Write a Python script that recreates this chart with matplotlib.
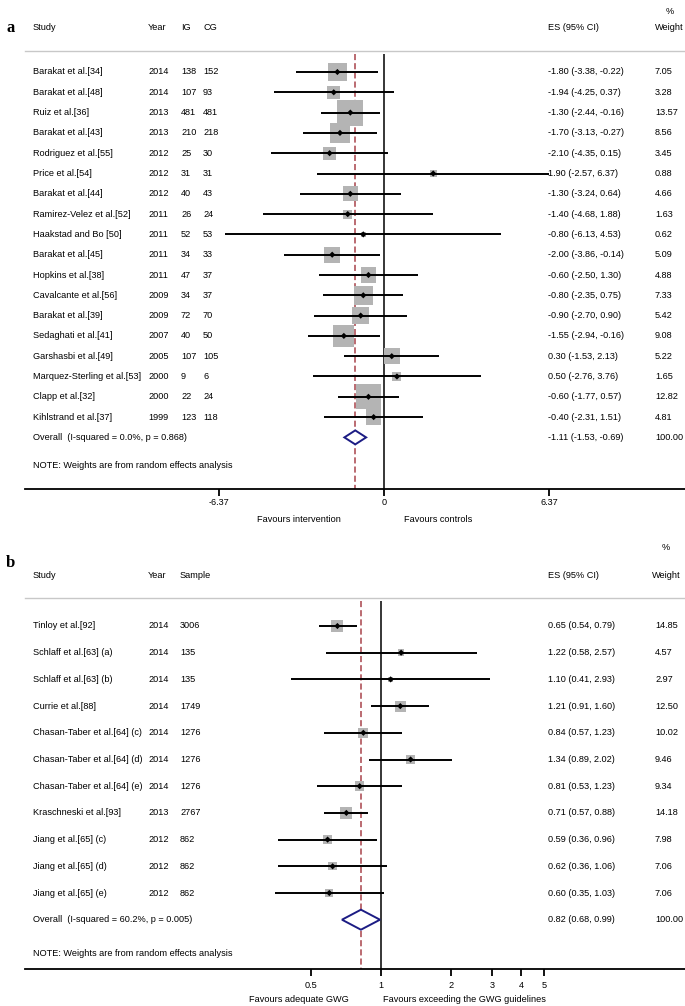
import numpy as np
import matplotlib
matplotlib.use('Agg')
import matplotlib.pyplot as plt
from matplotlib.patches import Polygon

plt.rcParams['font.family'] = ['Liberation Sans', 'DejaVu Sans']

# ---- panel a: physical activity vs weight gain (mean difference) ----
studies_a = ['Barakat et al.[34]', 'Barakat et al.[48]', 'Ruiz et al.[36]', 'Barakat et al.[43]',
             'Rodriguez et al.[55]', 'Price et al.[54]', 'Barakat et al.[44]',
             'Ramirez-Velez et al.[52]', 'Haakstad and Bo [50]', 'Barakat et al.[45]',
             'Hopkins et al.[38]', 'Cavalcante et al.[56]', 'Barakat et al.[39]',
             'Sedaghati et al.[41]', 'Garshasbi et al.[49]', 'Marquez-Sterling et al.[53]',
             'Clapp et al.[32]', 'Kihlstrand et al.[37]']
years_a = [2014, 2014, 2013, 2013, 2012, 2012, 2012, 2011, 2011, 2011, 2011, 2009, 2009,
           2007, 2005, 2000, 2000, 1999]
ig_a = [138, 107, 481, 210, 25, 31, 40, 26, 52, 34, 47, 34, 72, 40, 107, 9, 22, 123]
cg_a = [152, 93, 481, 218, 30, 31, 43, 24, 53, 33, 37, 37, 70, 50, 105, 6, 24, 118]
es_a = [-1.80, -1.94, -1.30, -1.70, -2.10, 1.90, -1.30, -1.40, -0.80, -2.00, -0.60, -0.80,
        -0.90, -1.55, 0.30, 0.50, -0.60, -0.40]
lo_a = [-3.38, -4.25, -2.44, -3.13, -4.35, -2.57, -3.24, -4.68, -6.13, -3.86, -2.50, -2.35,
        -2.70, -2.94, -1.53, -2.76, -1.77, -2.31]
hi_a = [-0.22, 0.37, -0.16, -0.27, 0.15, 6.37, 0.64, 1.88, 4.53, -0.14, 1.30, 0.75,
        0.90, -0.16, 2.13, 3.76, 0.57, 1.51]
weight_a = [7.05, 3.28, 13.57, 8.56, 3.45, 0.88, 4.66, 1.63, 0.62, 5.09, 4.88, 7.33,
            5.42, 9.08, 5.22, 1.65, 12.82, 4.81]
overall_a = [-1.11, -1.53, -0.69]
overall_text_a = 'Overall  (I-squared = 0.0%, p = 0.868)'
ticks_a = [-6.37, 0, 6.37]
tick_labels_a = ['-6.37', '0', '6.37']

# ---- panel b: adequate GWG vs exceeding guidelines (ratio, log scale) ----
studies_b = ['Tinloy et al.[92]', 'Schlaff et al.[63] (a)', 'Schlaff et al.[63] (b)',
             'Currie et al.[88]', 'Chasan-Taber et al.[64] (c)', 'Chasan-Taber et al.[64] (d)',
             'Chasan-Taber et al.[64] (e)', 'Kraschneski et al.[93]', 'Jiang et al.[65] (c)',
             'Jiang et al.[65] (d)', 'Jiang et al.[65] (e)']
years_b = [2014, 2014, 2014, 2014, 2014, 2014, 2014, 2013, 2012, 2012, 2012]
sample_b = [3006, 135, 135, 1749, 1276, 1276, 1276, 2767, 862, 862, 862]
es_b = [0.65, 1.22, 1.10, 1.21, 0.84, 1.34, 0.81, 0.71, 0.59, 0.62, 0.60]
lo_b = [0.54, 0.58, 0.41, 0.91, 0.57, 0.89, 0.53, 0.57, 0.36, 0.36, 0.35]
hi_b = [0.79, 2.57, 2.93, 1.60, 1.23, 2.02, 1.23, 0.88, 0.96, 1.06, 1.03]
weight_b = [14.85, 4.57, 2.97, 12.50, 10.02, 9.46, 9.34, 14.18, 7.98, 7.06, 7.06]
overall_b = [0.82, 0.68, 0.99]
overall_text_b = 'Overall  (I-squared = 60.2%, p = 0.005)'
ticks_b = [0.5, 1, 2, 3, 4, 5]
tick_labels_b = ['0.5', '1', '2', '3', '4', '5']

W, H = 685, 1006
FS = 6.6
BOX = '#b4b4b4'
DIAM = '#1c1c84'
DASH = '#a8424a'


def fx(px):
    return px / W


def draw_panel(ax, lay, studies, cols, es, lo, hi, weight, overall, overall_text,
               ticks, tick_labels, null, fav_left, fav_right):
    r = lambda p: (p - lay['row0']) / lay['step']
    ax.set_ylim(r(lay['bottom']), r(lay['top']))
    ax.axis('off')
    tr = ax.get_yaxis_transform()  # x in axes fraction, y in data

    # header
    ax.text(fx(lay['letter_x']), r(lay['letter_y']), lay['letter'], transform=tr,
            fontsize=12, fontweight='bold', family='Liberation Serif', va='center')
    for name, x in lay['headers']:
        ax.text(fx(x), r(lay['head_y']), name, transform=tr, fontsize=FS, va='center')
    ax.text(fx(lay['pct_x']), r(lay['pct_y']), '%', transform=tr, fontsize=FS, va='center')
    ax.axhline(r(lay['grid_y']), xmin=fx(25), xmax=1, color='#c8c8c8', lw=1.0)

    rows = np.arange(len(studies))
    for i in rows:
        ax.text(fx(33), i, studies[i], transform=tr, fontsize=FS, va='center')
        for vals, x in cols:
            ax.text(fx(x), i, str(vals[i]), transform=tr, fontsize=FS, va='center')
        ax.text(fx(548), i, f'{es[i]:.2f} ({lo[i]:.2f}, {hi[i]:.2f})', transform=tr,
                fontsize=FS, va='center')
        ax.text(fx(655), i, f'{weight[i]:.2f}', transform=tr, fontsize=FS, va='center')

    y_top = r(lay['grid_y'] + 3)
    y_axis = r(lay['axis_y'])
    ax.vlines(null, y_top, y_axis, color='black', lw=1.1, zorder=1)
    ax.vlines(overall[0], y_top, y_axis, color=DASH, lw=1.1, linestyles=(0, (4, 2)), zorder=1)

    side_pt = lay['box_k'] * np.sqrt(np.array(weight)) * 0.72
    ax.scatter(es, rows, s=side_pt ** 2, marker='s', color=BOX, edgecolors='none', zorder=2)
    ax.hlines(rows, lo, hi, color='black', lw=1.4, zorder=3)
    ax.scatter(es, rows, s=10, marker='D', color='black', edgecolors='none', zorder=4)

    # overall
    n = len(studies)
    hh = lay['diam_h'] / lay['step']
    ax.add_patch(Polygon([(overall[1], n), (overall[0], n - hh), (overall[2], n),
                          (overall[0], n + hh)], closed=True, facecolor='white',
                         edgecolor=DIAM, lw=1.4, zorder=5))
    ax.text(fx(33), n, overall_text, transform=tr, fontsize=FS, va='center')
    ax.text(fx(548), n, f'{overall[0]:.2f} ({overall[1]:.2f}, {overall[2]:.2f})',
            transform=tr, fontsize=FS, va='center')
    ax.text(fx(655), n, '100.00', transform=tr, fontsize=FS, va='center')
    ax.text(fx(33), r(lay['note_y']), 'NOTE: Weights are from random effects analysis',
            transform=tr, fontsize=FS, va='center')

    # x axis
    ax.axhline(y_axis, xmin=fx(25), xmax=1, color='black', lw=1.3)
    ax.vlines(ticks, y_axis, r(lay['axis_y'] + 7), color='black', lw=1.3)
    for t, lab in zip(ticks, tick_labels):
        ax.text(t, r(lay['tick_y']), lab, fontsize=FS, ha='center', va='center')
    ax.text(fx(fav_left[1]), r(lay['fav_y']), fav_left[0], transform=tr, fontsize=FS,
            ha='right', va='center')
    ax.text(fx(fav_right[1]), r(lay['fav_y']), fav_right[0], transform=tr, fontsize=FS,
            ha='left', va='center')


fig = plt.figure(figsize=(W / 100, H / 100), dpi=100)

# panel a occupies pixels 0..535
split = 535
ax_a = fig.add_axes([0, 1 - split / H, 1, split / H])
# x: 0 at px 384, 25.9 px per unit
ax_a.set_xlim(-384 / 25.9, (W - 384) / 25.9)
lay_a = dict(top=0, bottom=split, row0=72, step=20.3, letter='a', letter_x=6, letter_y=28,
             head_y=28, pct_x=666, pct_y=12, grid_y=51, note_y=466, axis_y=489,
             tick_y=503, fav_y=520, box_k=26 / np.sqrt(13.57), diam_h=7,
             headers=[('Study', 33), ('Year', 148), ('IG', 181), ('CG', 203),
                      ('ES (95% CI)', 548), ('Weight', 655)])
draw_panel(ax_a, lay_a, studies_a, [(years_a, 148), (ig_a, 181), (cg_a, 203)],
           es_a, lo_a, hi_a, weight_a, overall_a, overall_text_a, ticks_a, tick_labels_a,
           0, ('Favours intervention', 341), ('Favours controls', 404))

# panel b occupies pixels 535..1006, log x: 1 at px 381, 233 px per decade
ax_b = fig.add_axes([0, 0, 1, 1 - split / H])
ax_b.set_xscale('log')
ax_b.set_xlim(10 ** (-381 / 233), 10 ** ((W - 381) / 233))
lay_b = dict(top=split, bottom=H, row0=626, step=26.7, letter='b', letter_x=6, letter_y=563,
             head_y=575, pct_x=662, pct_y=547, grid_y=598, note_y=953, axis_y=969,
             tick_y=986, fav_y=999, box_k=12 / np.sqrt(14.85), diam_h=10,
             headers=[('Study', 33), ('Year', 148), ('Sample', 180),
                      ('ES (95% CI)', 548), ('Weight', 652)])
draw_panel(ax_b, lay_b, studies_b, [(years_b, 148), (sample_b, 180)],
           es_b, lo_b, hi_b, weight_b, overall_b, overall_text_b, ticks_b, tick_labels_b,
           1, ('Favours adequate GWG', 349), ('Favours exceeding the GWG guidelines', 383))

fig.savefig('out.png', dpi=100, facecolor='white')
